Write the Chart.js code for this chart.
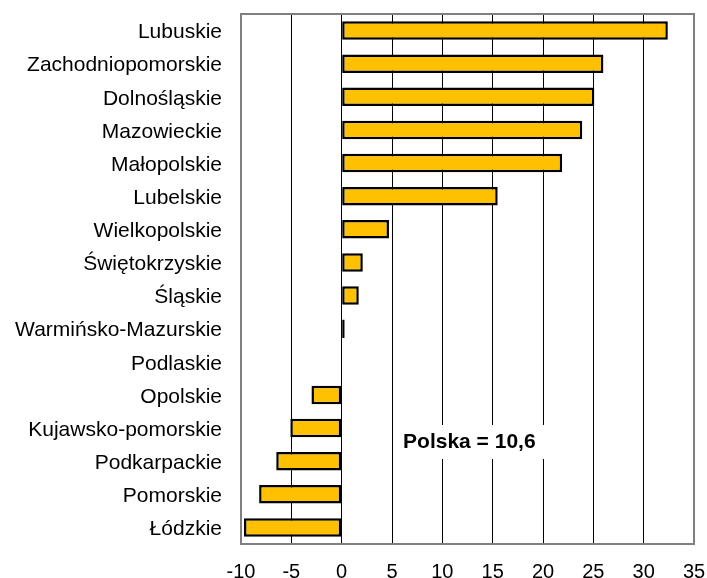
<!DOCTYPE html>
<html>
<head>
<meta charset="utf-8">
<script src="https://cdn.jsdelivr.net/npm/chart.js@4"></script>
<style>
  html, body { margin: 0; padding: 0; background: #fff; }
  #wrap { width: 707px; height: 578px; }
</style>
</head>
<body>
<div id="wrap"><canvas id="myChart" width="707" height="578"></canvas></div>
<script>
// Dane
const regions = ['Lubuskie', 'Zachodniopomorskie', 'Dolnośląskie', 'Mazowieckie', 'Małopolskie',
  'Lubelskie', 'Wielkopolskie', 'Świętokrzyskie', 'Śląskie', 'Warmińsko-Mazurskie', 'Podlaskie',
  'Opolskie', 'Kujawsko-pomorskie', 'Podkarpackie', 'Pomorskie', 'Łódzkie'];
const values = [32.4, 26.0, 25.1, 23.9, 21.9, 15.5, 4.7, 2.1, 1.7, 0.3, 0,
  -3.0, -5.1, -6.5, -8.2, -9.7];
const xTicks = [-10, -5, 0, 5, 10, 15, 20, 25, 30, 35];
const noteText = 'Polska = 10,6';

const FONT = 'Arial, "Liberation Sans", sans-serif';

// bez dodatkowego marginesu od etykiet osi
function noPad(scale) {
  scale.paddingTop = 0;
  scale.paddingBottom = 0;
  scale.paddingLeft = 0;
  scale.paddingRight = 0;
}

// ramka obszaru wykresu + podpis "Polska"
const framePlugin = {
  id: 'frame',
  beforeDatasetsDraw(chart) {
    const a = chart.chartArea;
    const ctx = chart.ctx;
    ctx.save();
    ctx.strokeStyle = '#808080';
    ctx.lineWidth = 2;
    ctx.strokeRect(a.left, a.top, a.right - a.left, a.bottom - a.top);
    ctx.restore();
  },
  afterDatasetsDraw(chart) {
    const ctx = chart.ctx;
    const x = chart.scales.x, y = chart.scales.y;
    const cy = y.getPixelForValue(12.42);
    const x0 = x.getPixelForValue(5.5), x1 = x.getPixelForValue(20.5);
    ctx.save();
    ctx.fillStyle = '#fff';
    ctx.fillRect(x0, cy - 17, x1 - x0, 34);
    ctx.fillStyle = '#000';
    ctx.font = 'bold 21px ' + FONT;
    ctx.textAlign = 'left';
    ctx.textBaseline = 'middle';
    ctx.fillText(noteText, x.getPixelForValue(6.1), cy);
    ctx.restore();
  }
};

const ctx = document.getElementById('myChart').getContext('2d');
const myChart = new Chart(ctx, {
  type: 'bar',
  data: {
    labels: regions,
    datasets: [{
      data: values,
      backgroundColor: '#FFC000',
      borderColor: '#000',
      borderWidth: 2.5,
      borderSkipped: false,
      barPercentage: 0.56,
      categoryPercentage: 1
    }]
  },
  options: {
    indexAxis: 'y',
    responsive: false,
    animation: false,
    layout: { padding: { top: 14, right: 13, left: 0, bottom: 0 } },
    plugins: { legend: { display: false }, tooltip: { enabled: false } },
    scales: {
      x: {
        min: -10,
        max: 35,
        afterBuildTicks(scale) { scale.ticks = xTicks.map(v => ({ value: v })); },
        afterFit(scale) { scale.height = 34; noPad(scale); },
        grid: { color: '#000', lineWidth: 1, drawTicks: false },
        border: { display: false },
        ticks: { color: '#000', font: { family: FONT, size: 20 }, padding: 16, maxRotation: 0, autoSkip: false }
      },
      y: {
        afterFit(scale) { scale.width = 241; noPad(scale); },
        grid: { display: false, drawTicks: false },
        border: { display: false },
        ticks: { color: '#000', font: { family: FONT, size: 21 }, padding: 19, labelOffset: 2, autoSkip: false }
      }
    }
  },
  plugins: [framePlugin]
});
</script>
</body>
</html>
